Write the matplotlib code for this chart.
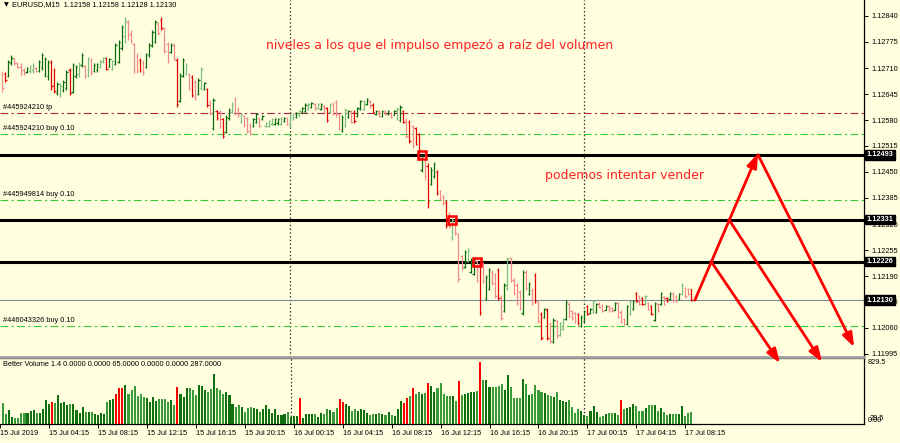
import numpy as np
import matplotlib
matplotlib.use("Agg")
import matplotlib.pyplot as plt
import matplotlib.transforms as mtransforms

plt.rcParams['font.family'] = ['Liberation Sans', 'DejaVu Sans']

# EURUSD M15, bars. bar index 0 = 15 Jul 00:00
first_bar = 2

open_ = [1.12695, 1.12695, 1.12690, 1.12722, 1.12733, 1.12722, 1.12712, 1.12705, 1.12700, 1.12702,
         1.12705, 1.12710, 1.12702, 1.12712, 1.12695, 1.12690, 1.12725, 1.12668, 1.12648, 1.12645,
         1.12655, 1.12660, 1.12705, 1.12650, 1.12690, 1.12695, 1.12718, 1.12715, 1.12692, 1.12730,
         1.12702, 1.12705, 1.12712, 1.12725, 1.12735, 1.12712, 1.12708, 1.12720, 1.12725, 1.12760,
         1.12790, 1.12825, 1.12795, 1.12770, 1.12740, 1.12730, 1.12722, 1.12712, 1.12742, 1.12765,
         1.12775, 1.12820, 1.12830, 1.12808, 1.12770, 1.12750, 1.12768, 1.12730, 1.12628, 1.12690,
         1.12695, 1.12695, 1.12688, 1.12675, 1.12645, 1.12660, 1.12658, 1.12658, 1.12625, 1.12560,
         1.12602, 1.12600, 1.12582, 1.12550, 1.12585, 1.12600, 1.12632, 1.12608, 1.12575, 1.12590,
         1.12585, 1.12568, 1.12565, 1.12575, 1.12585, 1.12582, 1.12565, 1.12565, 1.12570, 1.12570,
         1.12572, 1.12570, 1.12578, 1.12585, 1.12568, 1.12585, 1.12588, 1.12592, 1.12600, 1.12602,
         1.12608, 1.12612, 1.12620, 1.12610, 1.12608, 1.12615, 1.12610, 1.12600, 1.12620, 1.12625,
         1.12595, 1.12552, 1.12565, 1.12588, 1.12602, 1.12600, 1.12590, 1.12608, 1.12608, 1.12620,
         1.12628, 1.12618, 1.12595, 1.12602, 1.12590, 1.12602, 1.12595, 1.12598, 1.12592, 1.12585,
         1.12580, 1.12602, 1.12580, 1.12575, 1.12565, 1.12560, 1.12545, 1.12455, 1.12500, 1.12465,
         1.12420, 1.12440, 1.12450, 1.12402, 1.12390, 1.12375, 1.12345, 1.12285, 1.12325, 1.12292,
         1.12240, 1.12212, 1.12228, 1.12200, 1.12195, 1.12228, 1.12220, 1.12220, 1.12135, 1.12158,
         1.12200, 1.12195, 1.12205, 1.12138, 1.12102, 1.12160, 1.12235, 1.12180, 1.12168, 1.12150,
         1.12098, 1.12200, 1.12145, 1.12155, 1.12192, 1.12125, 1.12095, 1.12088, 1.12105, 1.12070,
         1.12025, 1.12078, 1.12042, 1.12058, 1.12082, 1.12120, 1.12102, 1.12098, 1.12095, 1.12065,
         1.12078, 1.12115, 1.12098, 1.12100, 1.12100, 1.12122, 1.12118, 1.12105, 1.12115, 1.12110,
         1.12105, 1.12122, 1.12100, 1.12082, 1.12070, 1.12095, 1.12108, 1.12148, 1.12140, 1.12135,
         1.12120, 1.12122, 1.12115, 1.12080, 1.12120, 1.12120, 1.12138, 1.12135, 1.12132, 1.12148,
         1.12140, 1.12132, 1.12145, 1.12160, 1.12158, 1.12158]
high = [1.12702, 1.12700, 1.12730, 1.12742, 1.12735, 1.12725, 1.12722, 1.12710, 1.12712, 1.12718,
        1.12722, 1.12712, 1.12730, 1.12748, 1.12738, 1.12730, 1.12730, 1.12710, 1.12675, 1.12672,
        1.12680, 1.12705, 1.12710, 1.12722, 1.12718, 1.12725, 1.12748, 1.12718, 1.12738, 1.12735,
        1.12722, 1.12722, 1.12730, 1.12738, 1.12738, 1.12735, 1.12730, 1.12772, 1.12780, 1.12818,
        1.12838, 1.12830, 1.12805, 1.12772, 1.12748, 1.12735, 1.12730, 1.12748, 1.12772, 1.12805,
        1.12830, 1.12825, 1.12838, 1.12812, 1.12775, 1.12772, 1.12772, 1.12735, 1.12698, 1.12735,
        1.12722, 1.12698, 1.12692, 1.12680, 1.12685, 1.12712, 1.12675, 1.12660, 1.12630, 1.12635,
        1.12605, 1.12605, 1.12585, 1.12592, 1.12610, 1.12625, 1.12638, 1.12612, 1.12598, 1.12592,
        1.12588, 1.12572, 1.12585, 1.12598, 1.12588, 1.12592, 1.12575, 1.12580, 1.12585, 1.12585,
        1.12585, 1.12588, 1.12588, 1.12588, 1.12598, 1.12598, 1.12600, 1.12605, 1.12612, 1.12622,
        1.12622, 1.12625, 1.12622, 1.12622, 1.12622, 1.12618, 1.12612, 1.12622, 1.12625, 1.12630,
        1.12598, 1.12592, 1.12610, 1.12605, 1.12605, 1.12605, 1.12612, 1.12630, 1.12630, 1.12635,
        1.12630, 1.12622, 1.12605, 1.12605, 1.12605, 1.12605, 1.12605, 1.12600, 1.12605, 1.12612,
        1.12618, 1.12605, 1.12585, 1.12580, 1.12568, 1.12562, 1.12548, 1.12492, 1.12505, 1.12472,
        1.12462, 1.12475, 1.12455, 1.12405, 1.12392, 1.12380, 1.12350, 1.12335, 1.12330, 1.12298,
        1.12242, 1.12255, 1.12260, 1.12235, 1.12235, 1.12230, 1.12225, 1.12225, 1.12192, 1.12210,
        1.12205, 1.12198, 1.12210, 1.12142, 1.12172, 1.12238, 1.12238, 1.12185, 1.12172, 1.12155,
        1.12205, 1.12205, 1.12175, 1.12160, 1.12198, 1.12130, 1.12100, 1.12110, 1.12110, 1.12075,
        1.12085, 1.12080, 1.12075, 1.12085, 1.12130, 1.12125, 1.12105, 1.12100, 1.12098, 1.12092,
        1.12105, 1.12118, 1.12110, 1.12130, 1.12122, 1.12125, 1.12120, 1.12118, 1.12118, 1.12112,
        1.12125, 1.12125, 1.12105, 1.12085, 1.12118, 1.12130, 1.12130, 1.12150, 1.12142, 1.12138,
        1.12142, 1.12125, 1.12118, 1.12125, 1.12122, 1.12150, 1.12140, 1.12138, 1.12150, 1.12150,
        1.12142, 1.12148, 1.12172, 1.12162, 1.12160, 1.12158]
low = [1.12650, 1.12675, 1.12688, 1.12718, 1.12718, 1.12710, 1.12692, 1.12692, 1.12698, 1.12698,
       1.12698, 1.12700, 1.12700, 1.12705, 1.12688, 1.12680, 1.12655, 1.12648, 1.12642, 1.12638,
       1.12650, 1.12655, 1.12642, 1.12648, 1.12685, 1.12688, 1.12712, 1.12685, 1.12688, 1.12692,
       1.12700, 1.12700, 1.12710, 1.12722, 1.12705, 1.12712, 1.12705, 1.12718, 1.12722, 1.12755,
       1.12772, 1.12780, 1.12772, 1.12698, 1.12698, 1.12700, 1.12692, 1.12710, 1.12738, 1.12762,
       1.12772, 1.12792, 1.12805, 1.12748, 1.12722, 1.12748, 1.12730, 1.12612, 1.12625, 1.12688,
       1.12692, 1.12655, 1.12638, 1.12630, 1.12642, 1.12655, 1.12655, 1.12612, 1.12592, 1.12555,
       1.12580, 1.12560, 1.12535, 1.12548, 1.12580, 1.12598, 1.12592, 1.12588, 1.12572, 1.12562,
       1.12548, 1.12542, 1.12562, 1.12572, 1.12562, 1.12580, 1.12562, 1.12562, 1.12568, 1.12568,
       1.12568, 1.12568, 1.12575, 1.12568, 1.12562, 1.12580, 1.12585, 1.12588, 1.12598, 1.12598,
       1.12605, 1.12610, 1.12605, 1.12610, 1.12605, 1.12598, 1.12575, 1.12598, 1.12592, 1.12588,
       1.12555, 1.12550, 1.12562, 1.12585, 1.12572, 1.12572, 1.12588, 1.12605, 1.12605, 1.12618,
       1.12610, 1.12598, 1.12592, 1.12588, 1.12588, 1.12592, 1.12592, 1.12585, 1.12592, 1.12580,
       1.12575, 1.12572, 1.12535, 1.12522, 1.12510, 1.12518, 1.12480, 1.12450, 1.12430, 1.12360,
       1.12418, 1.12435, 1.12392, 1.12380, 1.12368, 1.12310, 1.12310, 1.12280, 1.12292, 1.12175,
       1.12205, 1.12210, 1.12225, 1.12198, 1.12192, 1.12175, 1.12092, 1.12172, 1.12130, 1.12155,
       1.12168, 1.12135, 1.12130, 1.12080, 1.12100, 1.12155, 1.12175, 1.12142, 1.12118, 1.12105,
       1.12092, 1.12155, 1.12142, 1.12118, 1.12122, 1.12072, 1.12030, 1.12085, 1.12030, 1.12022,
       1.12022, 1.12035, 1.12040, 1.12055, 1.12080, 1.12085, 1.12080, 1.12072, 1.12068, 1.12062,
       1.12075, 1.12092, 1.12095, 1.12098, 1.12098, 1.12110, 1.12100, 1.12105, 1.12100, 1.12100,
       1.12105, 1.12085, 1.12072, 1.12068, 1.12068, 1.12092, 1.12105, 1.12125, 1.12118, 1.12118,
       1.12118, 1.12105, 1.12092, 1.12078, 1.12100, 1.12118, 1.12118, 1.12125, 1.12130, 1.12125,
       1.12125, 1.12130, 1.12142, 1.12135, 1.12142, 1.12128]
close = [1.12660, 1.12680, 1.12725, 1.12735, 1.12722, 1.12712, 1.12695, 1.12698, 1.12710, 1.12715,
         1.12718, 1.12702, 1.12726, 1.12742, 1.12732, 1.12725, 1.12665, 1.12652, 1.12670, 1.12665,
         1.12675, 1.12700, 1.12648, 1.12718, 1.12712, 1.12720, 1.12742, 1.12690, 1.12732, 1.12698,
         1.12718, 1.12720, 1.12728, 1.12735, 1.12708, 1.12732, 1.12728, 1.12768, 1.12775, 1.12812,
         1.12830, 1.12790, 1.12778, 1.12705, 1.12702, 1.12705, 1.12700, 1.12745, 1.12768, 1.12800,
         1.12825, 1.12798, 1.12810, 1.12752, 1.12728, 1.12768, 1.12735, 1.12620, 1.12692, 1.12730,
         1.12718, 1.12660, 1.12642, 1.12635, 1.12680, 1.12708, 1.12672, 1.12618, 1.12598, 1.12630,
         1.12585, 1.12565, 1.12540, 1.12588, 1.12605, 1.12620, 1.12598, 1.12592, 1.12595, 1.12568,
         1.12552, 1.12545, 1.12582, 1.12595, 1.12565, 1.12590, 1.12572, 1.12578, 1.12582, 1.12582,
         1.12582, 1.12585, 1.12585, 1.12570, 1.12592, 1.12595, 1.12598, 1.12602, 1.12610, 1.12618,
         1.12620, 1.12622, 1.12608, 1.12620, 1.12620, 1.12600, 1.12580, 1.12618, 1.12595, 1.12592,
         1.12558, 1.12588, 1.12605, 1.12602, 1.12575, 1.12578, 1.12610, 1.12628, 1.12625, 1.12632,
         1.12612, 1.12600, 1.12602, 1.12590, 1.12602, 1.12595, 1.12602, 1.12588, 1.12602, 1.12608,
         1.12612, 1.12575, 1.12540, 1.12528, 1.12515, 1.12520, 1.12485, 1.12485, 1.12440, 1.12375,
         1.12455, 1.12470, 1.12398, 1.12385, 1.12372, 1.12318, 1.12315, 1.12330, 1.12298, 1.12182,
         1.12210, 1.12250, 1.12255, 1.12230, 1.12232, 1.12180, 1.12100, 1.12178, 1.12188, 1.12205,
         1.12172, 1.12140, 1.12135, 1.12085, 1.12168, 1.12232, 1.12180, 1.12148, 1.12122, 1.12110,
         1.12200, 1.12160, 1.12170, 1.12122, 1.12128, 1.12078, 1.12035, 1.12108, 1.12035, 1.12028,
         1.12080, 1.12040, 1.12072, 1.12082, 1.12125, 1.12090, 1.12085, 1.12078, 1.12072, 1.12088,
         1.12102, 1.12095, 1.12108, 1.12128, 1.12120, 1.12112, 1.12102, 1.12115, 1.12102, 1.12102,
         1.12122, 1.12088, 1.12075, 1.12070, 1.12115, 1.12128, 1.12128, 1.12128, 1.12120, 1.12120,
         1.12140, 1.12108, 1.12095, 1.12122, 1.12102, 1.12148, 1.12120, 1.12128, 1.12148, 1.12128,
         1.12128, 1.12145, 1.12168, 1.12140, 1.12145, 1.12130]
# G dark green, g light green, R red, r light red
bar_kind = ("rRGGrrrrGg" "grGGGGRRGg" "GGRGGgGrgr" "GGggRGgGGG" "grrrrRrGGG"
            "GrRrrGrRGG" "grRrGgGRrG" "RrRGGgrrgr" "rrGGrGgggG" "GgGrggGgGG"
            "gGrgGrRgrr" "rGgGrRGGgG" "rRGrGrGrGg" "GRrRrRRGrR" "GGRrrRrgrr"
            "rGgGGrRrGG" "rrRrGgrrrr" "GrGrRrRGRr" "GrggGrrrRG" "GRGgGrrGrr"
            "GrrrGgGRrR" "grRGrGrRGr" "rGgrrR")

# Better Volume histogram, same bars
volume = [260, 122, 176, 84, 80, 80, 134, 142, 142, 163,
          176, 134, 142, 189, 302, 251, 281, 268, 365, 268,
          281, 239, 247, 247, 176, 134, 210, 155, 155, 147,
          126, 113, 134, 126, 281, 302, 314, 373, 448, 448,
          490, 373, 427, 478, 352, 377, 335, 323, 281, 344,
          293, 314, 314, 314, 272, 302, 239, 469, 373, 344,
          448, 448, 427, 365, 490, 478, 427, 398, 436, 624,
          448, 427, 373, 398, 365, 247, 218, 239, 218, 155,
          205, 218, 197, 189, 147, 189, 239, 189, 134, 189,
          113, 113, 122, 147, 92, 105, 105, 323, 80, 122,
          122, 122, 122, 92, 134, 122, 189, 176, 155, 197,
          314, 281, 247, 230, 163, 184, 163, 189, 176, 134,
          113, 122, 130, 134, 122, 113, 147, 113, 105, 184,
          289, 268, 323, 352, 448, 373, 406, 373, 385, 511,
          478, 406, 457, 511, 373, 356, 356,
          352, 293, 545, 365, 377, 385, 398, 406, 419, 784,
          553, 553, 469, 469, 469, 482, 499, 427, 616, 469,
          323, 331, 331, 566, 499, 365, 373, 490, 427, 406,
          385, 365, 356, 344, 398, 302, 289, 272, 302, 218,
          134, 184, 163, 113, 101, 163, 226, 147, 92, 105,
          122, 134, 134, 134, 113, 302, 184, 205, 218, 247,
          230, 163, 163, 197, 239, 239, 239, 163, 197, 155,
          113, 122, 122, 122, 126, 226, 101, 134, 155]
volume_red = [18, 39, 40, 41, 59, 99, 112, 113, 133, 134, 136, 141, 151, 158, 204]

time_labels = ["15 Jul 2019", "15 Jul 04:15", "15 Jul 08:15", "15 Jul 12:15", "15 Jul 16:15",
               "15 Jul 20:15", "16 Jul 00:15", "16 Jul 04:15", "16 Jul 08:15", "16 Jul 12:15",
               "16 Jul 16:15", "16 Jul 20:15", "17 Jul 00:15", "17 Jul 04:15", "17 Jul 08:15"]
time_label_bars = [1, 17, 33, 49, 65, 81, 97, 113, 129, 145, 161, 177, 193, 209, 225]
day_breaks = [96, 192]

price_ticks = [1.11995, 1.12060, 1.12125, 1.12190, 1.12255, 1.12320, 1.12385,
               1.12450, 1.12515, 1.12580, 1.12645, 1.12710, 1.12775, 1.12840]
levels_black = [1.12493, 1.12331, 1.12226]
level_bid = 1.12130
order_names = ["#445924210 tp", "#445924210 buy 0.10", "#445949814 buy 0.10", "#446043326 buy 0.10"]
order_prices = [1.12598, 1.12545, 1.12380, 1.12065]
order_is_tp = [True, False, False, False]

# red boxes where the impulse started
box_bars = [139, 149, 157]
box_prices = [1.12493, 1.12331, 1.12226]

# hand drawn arrows (bar, price)
arrow_up = [(228.2, 1.12130), (248.8, 1.12497)]
arrows_down = [[(233.5, 1.12226), (256.0, 1.11972)],
               [(239.3, 1.12331), (269.7, 1.11975)],
               [(248.8, 1.12493), (280.2, 1.12012)]]

# notes written on the chart (bar, price, text)
notes = [(88.0, 1.12767, "niveles a los que el impulso empezó a raíz del volumen"),
         (179.3, 1.12442, "podemos intentar vender")]

bg = '#FFFFE0'
kind_color = {'G': '#0B6B0B', 'g': '#7DBE7D', 'R': '#E00000', 'r': '#F28A8A'}

W, H = 900, 443
fig = plt.figure(figsize=(9, 4.43), dpi=100, facecolor=bg)

def fx(px):
    return px / W

def fy(py):
    return 1 - py / H

ax = fig.add_axes([0, fy(357), fx(864), 357 / H], facecolor=bg)
axv = fig.add_axes([0, fy(424), fx(864), (424 - 358) / H], facecolor=bg)
ax.set_zorder(3)
axv.set_zorder(1)

x0, x1 = 1.3, 283.4
bars = np.arange(first_bar, first_bar + len(close))

# price bars
cols = [kind_color[k] for k in bar_kind]
ax.vlines(bars, low, high, colors=cols, lw=0.9, zorder=4)
ax.hlines(open_, bars - 0.45, bars, colors=cols, lw=0.9, zorder=4)
ax.hlines(close, bars, bars + 0.45, colors=cols, lw=0.9, zorder=4)

# order lines
trans = mtransforms.blended_transform_factory(ax.transAxes, ax.transData)
for name, p, tp in zip(order_names, order_prices, order_is_tp):
    c = '#B0203C' if tp else '#33CC33'
    ax.axhline(p, color=c, lw=0.8, dashes=(7, 3, 2, 3), zorder=2)
    ax.text(0.004, p + 0.00004, name, transform=trans, fontsize=5.3, va='bottom', ha='left')

for p in levels_black:
    ax.axhline(p, color='black', lw=2.2, zorder=2)
ax.axhline(level_bid, color='#7A8899', lw=0.8, zorder=2)

for d in day_breaks:
    ax.axvline(d, color='#333333', lw=0.9, ls=(0, (1.2, 1.8)), zorder=1)
    axv.axvline(d, color='#333333', lw=0.9, ls=(0, (1.2, 1.8)), zorder=1)

ax.plot(box_bars, box_prices, 's', ms=5.5, mfc='none', mec='#FF0000', mew=1.8, zorder=6)

# arrows
arr = dict(arrowstyle='-|>,head_length=0.7,head_width=0.25', color='#FF0000', lw=2.0,
           shrinkA=0, shrinkB=0, mutation_scale=12)
ax.annotate('', xy=arrow_up[1], xytext=arrow_up[0], arrowprops=arr, annotation_clip=False, zorder=7)
for a, b in arrows_down:
    ax.annotate('', xy=b, xytext=a, arrowprops=arr, annotation_clip=False, zorder=7)

for nx, ny, txt in notes:
    ax.text(nx, ny, txt, color='#FF2020', fontsize=9, family=['DejaVu Sans'],
            va='center', ha='left')

ax.set_xlim(x0, x1)
ax.set_ylim(1.119875, 1.12880)

ax.yaxis.tick_right()
ax.set_yticks(price_ticks)
ax.set_yticklabels(["%.5f" % p for p in price_ticks])
ax.tick_params(axis='y', direction='out', length=3, width=0.7, labelsize=5.3, pad=2)
ax.set_xticks([])
for s in ['top', 'left']:
    ax.spines[s].set_visible(False)
ax.spines['right'].set_linewidth(0.9)
ax.spines['bottom'].set_color('#A0A0A0')
ax.spines['bottom'].set_linewidth(2)

for p in levels_black + [level_bid]:
    ax.text(1.003, p, "%.5f" % p, transform=trans, fontsize=5.3, color='white', fontweight='bold',
            va='center', ha='left', clip_on=False, zorder=8,
            bbox=dict(boxstyle='square,pad=0.18', fc='black', ec='black'))

# volume panel
vcols = []
for b, k in zip(bars, bar_kind):
    if b in volume_red:
        vcols.append('#FF0000')
    elif k in 'Gg':
        vcols.append('#0E700E')
    else:
        vcols.append('#3A9A3A')
axv.bar(bars, volume, width=0.68, color=vcols, zorder=3)
axv.set_xlim(x0, x1)
axv.set_ylim(0, 829.5)
axv.set_yticks([])
axv.set_xticks(time_label_bars)
axv.set_xticklabels(time_labels, ha='left')
axv.tick_params(axis='x', direction='out', length=3, width=0.7, labelsize=5.3, pad=1.5)
axv.spines['left'].set_visible(False)
for s in ['top', 'right', 'bottom']:
    axv.spines[s].set_linewidth(0.9)

fig.text(fx(4), fy(5), "\u25bc", fontsize=4.5, va='center', ha='left', family=['DejaVu Sans'])
fig.text(fx(12), fy(5), "EURUSD,M15  1.12158 1.12158 1.12128 1.12130", fontsize=5.3, va='center', ha='left')
fig.text(fx(3), fy(365), "Better Volume 1.4 0.0000 0.0000 65.0000 0.0000 0.0000 287.0000",
         fontsize=5.3, va='center', ha='left')
fig.text(fx(868), fy(363), "829.5", fontsize=5.3, va='center', ha='left')
fig.text(fx(868), fy(421), "0.00", fontsize=5.3, va='center', ha='left')
fig.text(fx(870), fy(419), "29.5", fontsize=5.3, va='center', ha='left')

fig.savefig('out.png', dpi=100, facecolor=bg)
